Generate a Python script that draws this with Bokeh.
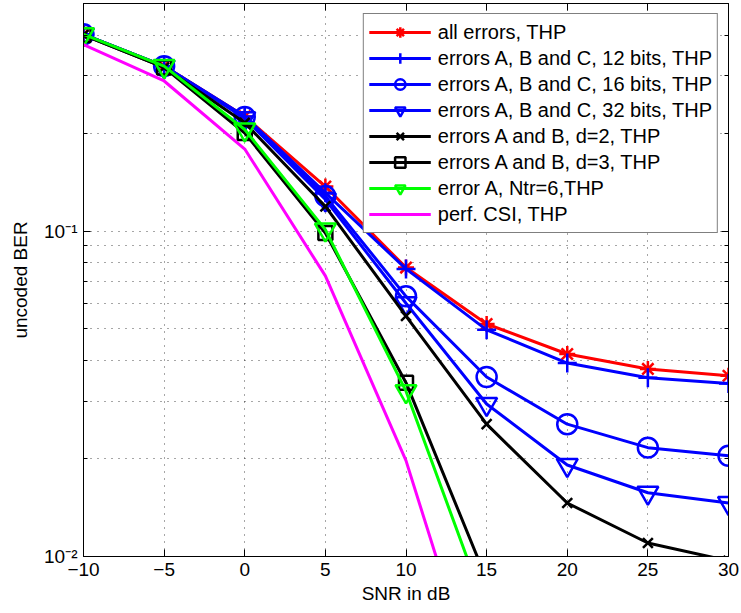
from bokeh.plotting import figure
from bokeh.models import Range1d, FixedTicker, LinearAxis, LogAxis, Legend, LegendItem
from bokeh.embed import file_html
from bokeh.resources import INLINE

# ---- data ----
snr = [-10, -5, 0, 5, 10, 15, 20, 25, 30]
snr_short = [-10, -5, 0, 5, 10, 15]

ber_all_errors = [0.402, 0.321, 0.225, 0.137, 0.0772, 0.0518, 0.0419, 0.0377, 0.0359]
ber_abc_12 = [0.402, 0.321, 0.225, 0.131, 0.0765, 0.0497, 0.0393, 0.0354, 0.0340]
ber_abc_16 = [0.402, 0.321, 0.224, 0.128, 0.0630, 0.0356, 0.0255, 0.0216, 0.0204]
ber_abc_32 = [0.402, 0.320, 0.222, 0.125, 0.0600, 0.0294, 0.0191, 0.0157, 0.0146]
ber_ab_d2 = [0.400, 0.318, 0.215, 0.119, 0.0548, 0.0255, 0.0146, 0.0110, 0.0097]
ber_ab_d3 = [0.400, 0.318, 0.200, 0.0986, 0.0342, 0.0085]
ber_a_ntr6 = [0.402, 0.321, 0.205, 0.101, 0.0322, 0.0068]
ber_perf = [0.374, 0.289, 0.1786, 0.0728, 0.0197, 0.0032]

labels = [
    "all errors, THP",
    "errors A, B and C, 12 bits, THP",
    "errors A, B and C, 16 bits, THP",
    "errors A, B and C, 32 bits, THP",
    "errors A and B, d=2, THP",
    "errors A and B, d=3, THP",
    "error A, Ntr=6,THP",
    "perf. CSI, THP",
]

x_ticks = [-10, -5, 0, 5, 10, 15, 20, 25, 30]
y_major = [0.01, 0.1]
y_minor = [0.02, 0.03, 0.04, 0.05, 0.06, 0.07, 0.08, 0.09, 0.2, 0.3, 0.4, 0.5]

FONT = "Liberation Sans"

p = figure(width=741, height=613, y_axis_type="log",
           x_range=Range1d(-10, 30), y_range=Range1d(0.01, 0.5),
           output_backend="svg", toolbar_location=None,
           min_border_left=83, min_border_right=13, min_border_top=3, min_border_bottom=57)
p.background_fill_color = "white"
p.border_fill_color = "white"
p.outline_line_color = "black"
p.outline_line_width = 1

xt = FixedTicker(ticks=x_ticks)
yt = FixedTicker(ticks=y_major, minor_ticks=y_minor)

def style_axis(ax):
    ax.major_tick_in = 7
    ax.major_tick_out = 0
    ax.minor_tick_in = 4
    ax.minor_tick_out = 0
    ax.axis_line_color = "black"
    ax.major_tick_line_color = "black"
    ax.minor_tick_line_color = "black"
    ax.major_label_text_font = FONT
    ax.major_label_text_font_size = "19px"
    ax.major_label_text_color = "black"
    ax.axis_label_text_font = FONT
    ax.axis_label_text_font_size = "19px"
    ax.axis_label_text_font_style = "normal"
    ax.axis_label_text_color = "black"

xa = p.xaxis[0]
xa.ticker = xt
style_axis(xa)
xa.minor_tick_in = 0
xa.major_label_overrides = {-10: "\u221210", -5: "\u22125"}
xa.major_label_standoff = 6
xa.axis_label = "SNR in dB"
xa.axis_label_standoff = 4

ya = p.yaxis[0]
ya.ticker = yt
style_axis(ya)
ya.major_label_overrides = {0.01: "10\u207b\u00b2", 0.1: "10\u207b\u00b9"}
ya.major_label_standoff = 6
ya.axis_label = "uncoded BER"
ya.axis_label_standoff = 10

top = LinearAxis(ticker=xt)
style_axis(top)
top.minor_tick_in = 0
top.major_label_standoff = 0
top.major_label_overrides = {t: "" for t in x_ticks}
p.add_layout(top, "above")
right = LogAxis(ticker=yt)
style_axis(right)
right.major_label_standoff = 0
right.major_label_overrides = {t: "" for t in y_major}
p.add_layout(right, "right")

for g in (p.xgrid[0], p.ygrid[0]):
    g.grid_line_color = "black"
    g.grid_line_alpha = 0.7
    g.grid_line_dash = "1 6"
    g.grid_line_width = 1
p.ygrid[0].minor_grid_line_color = "black"
p.ygrid[0].minor_grid_line_alpha = 0.7
p.ygrid[0].minor_grid_line_dash = "1 6"

series = [
    (snr, ber_all_errors, "#ff0000", "asterisk", 16),
    (snr, ber_abc_12, "#0000ff", "cross", 19),
    (snr, ber_abc_16, "#0000ff", "circle", 20),
    (snr, ber_abc_32, "#0000ff", "inverted_triangle", 21),
    (snr, ber_ab_d2, "#000000", "x", 14),
    (snr_short, ber_ab_d3, "#000000", "square", 14),
    (snr_short, ber_a_ntr6, "#00ff00", "inverted_triangle", 21),
    (snr_short, ber_perf, "#ff00ff", None, 0),
]

items = []
for (xs, ys, col, mk, sz), lab in zip(series, labels):
    rs = [p.line(xs, ys, line_color=col, line_width=3)]
    if mk is not None:
        rs.append(p.scatter(xs, ys, marker=mk, size=sz, line_color=col,
                            fill_color=None, line_width=2.5))
    items.append(LegendItem(label=lab, renderers=rs))

legend = Legend(items=items, location="top_right")
legend.border_line_color = "black"
legend.border_line_width = 1
legend.background_fill_color = "white"
legend.background_fill_alpha = 1
legend.label_text_font = FONT
legend.label_text_font_size = "20px"
legend.label_text_color = "black"
legend.glyph_width = 62
legend.glyph_height = 26
legend.label_height = 26
legend.spacing = 0
legend.padding = 5
legend.margin = 10
legend.label_standoff = 7
p.add_layout(legend)

open("out.html", "w").write(file_html(p, INLINE))
